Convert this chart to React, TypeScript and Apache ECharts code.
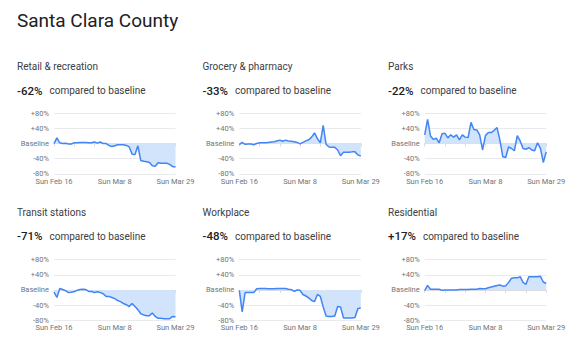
import React, { useEffect, useRef } from "react";
import * as echarts from "echarts";

const chartTitle = "Santa Clara County";
const panelTitles = ["Retail & recreation", "Grocery & pharmacy", "Parks", "Transit stations", "Workplace", "Residential"];
const headlineValues = ["-62%", "-33%", "-22%", "-71%", "-48%", "+17%"];
const comparedText = "compared to baseline";

const weekdays = ["Sun", "Mon", "Tue", "Wed", "Thu", "Fri", "Sat"];
const monthNames = ["Jan", "Feb", "Mar", "Apr"];
const dates: string[] = [];
for (let i = 0; i < 43; i++) {
  const d = new Date(2020, 1, 16 + i);
  dates.push(`${weekdays[d.getDay()]} ${monthNames[d.getMonth()]} ${d.getDate()}`);
}
const xTickLabels = ["Sun Feb 16", "Sun Mar 8", "Sun Mar 29"];
const yTicks = [-80, -40, 0, 40, 80];

const retail = [0, 15, 2, 0, 1, -1, -1, 2, 2, 3, 3, 3, 2, 2, 4, 1, 4, 0, 0, -5, -8, -6, -3, -3, -3, -5, -9, -28, -29, -6, -45, -47, -48, -50, -59, -60, -51, -52, -52, -52, -55, -61, -62];
const grocery = [-3, 3, -2, -1, -1, -3, 0, 2, 2, 2, 3, 4, 5, 7, 9, 6, 9, 7, 6, 5, 3, -1, 3, 7, 10, 17, 28, 13, 2, 48, -2, -9, -10, -10, -17, -32, -23, -23, -23, -22, -22, -30, -33];
const parks = [23, 64, 20, 11, 14, 2, 26, 27, 15, 23, 17, 23, 10, 23, 17, 16, 56, 37, 36, 23, -17, 21, 29, 29, 35, 42, 9, -35, -37, -9, -13, -19, 21, 7, -13, -15, -11, -17, -19, 2, -13, -50, -22];
const transit = [-6, -20, 4, 1, -2, -7, -6, -4, -1, 1, 2, 1, -4, -4, -7, -5, -7, -10, -17, -17, -20, -23, -28, -31, -36, -39, -44, -36, -44, -52, -63, -66, -68, -68, -61, -70, -75, -75, -76, -76, -76, -70, -71];
const workplace = [-1, -58, -7, -7, -7, -7, 3, 4, 4, 4, 3, 3, 3, 4, 4, 4, 4, 2, 1, -4, 0, -1, -12, -16, -21, -28, -31, -12, -17, -45, -69, -70, -70, -69, -44, -45, -74, -74, -74, -74, -73, -49, -48];
const residential = [-2, 12, 2, 2, 2, 2, -1, 0, 0, 0, 0, 0, 1, 1, 1, 1, 2, 2, 2, 4, 3, 3, 6, 8, 10, 12, 13, 10, 11, 20, 31, 32, 32, 35, 20, 15, 35, 35, 35, 35, 36, 21, 17];
const seriesData = [retail, grocery, parks, transit, workplace, residential];

const FONT = "Roboto, Arial, sans-serif";

export default function App() {
  const ref = useRef<HTMLDivElement>(null);
  useEffect(() => {
    if (!ref.current) return;
    const chart = echarts.init(ref.current, undefined, { renderer: "svg" });
    const colX = [17, 202.5, 388];
    const gridLeft = [54, 239.3, 424.7];
    const gridW = 121.5;
    const rowTop = [113.3, 259.7];
    const gridH = 60.5;
    const titleY = [66.5, 212];
    const valueY = [90.5, 236];

    const grids: any[] = [];
    const xAxes: any[] = [];
    const yAxes: any[] = [];
    const series: any[] = [];
    const graphics: any[] = [
      {
        type: "text",
        left: 17,
        top: 11,
        style: { text: chartTitle, font: `400 19px ${FONT}`, fill: "#202124" },
      },
    ];

    for (let p = 0; p < 6; p++) {
      const c = p % 3;
      const r = Math.floor(p / 3);
      grids.push({ left: gridLeft[c], top: rowTop[r], width: gridW, height: gridH });
      xAxes.push({
        type: "category",
        gridIndex: p,
        data: dates,
        boundaryGap: false,
        axisLine: { show: true, lineStyle: { color: "#dadce0", width: 1 } },
        axisTick: { show: true, interval: 6, length: 3, lineStyle: { color: "#dadce0" } },
        axisLabel: {
          interval: (i: number) => xTickLabels.includes(dates[i]),
          fontSize: 7.5,
          lineHeight: 7.5,
          color: "#70757a",
          fontFamily: FONT,
          margin: 4,
        },
        splitLine: { show: false },
      });
      yAxes.push({
        type: "value",
        gridIndex: p,
        min: yTicks[0],
        max: yTicks[yTicks.length - 1],
        interval: 40,
        axisLine: { show: false },
        axisTick: { show: false },
        axisLabel: {
          fontSize: 7.5,
          lineHeight: 7.5,
          color: "#70757a",
          fontFamily: FONT,
          margin: 5,
          formatter: (v: number) => (v === 0 ? "Baseline" : v > 0 ? `+${v}%` : `${v}%`),
        },
        splitLine: { show: true, lineStyle: { color: "#e8eaed", width: 1 } },
      });
      series.push({
        type: "line",
        xAxisIndex: p,
        yAxisIndex: p,
        data: seriesData[p],
        showSymbol: false,
        symbol: "none",
        lineStyle: { color: "#4285f4", width: 1.5 },
        areaStyle: { color: "#d2e3fc", opacity: 1, origin: 0 },
        z: 3,
      });
      graphics.push({
        type: "text",
        x: colX[c],
        y: titleY[r],
        style: {
          text: panelTitles[p],
          font: `400 10px ${FONT}`,
          fill: "#3c4043",
          textVerticalAlign: "middle",
        },
      });
      graphics.push({
        type: "text",
        x: colX[c],
        y: valueY[r],
        style: {
          text: `{v|${headlineValues[p]}}{c|${comparedText}}`,
          textVerticalAlign: "middle",
          rich: {
            v: { font: `500 11.5px ${FONT}`, fill: "#202124", padding: [0, 7, 0, 0] },
            c: { font: `400 10px ${FONT}`, fill: "#3c4043" },
          },
        },
      });
    }

    chart.setOption({
      animation: false,
      grid: grids,
      xAxis: xAxes,
      yAxis: yAxes,
      series,
      graphic: graphics,
    });
    return () => chart.dispose();
  }, []);
  return <div ref={ref} style={{ position: "fixed", left: 0, top: 0, width: 580, height: 349, background: "#fff" }} />;
}
